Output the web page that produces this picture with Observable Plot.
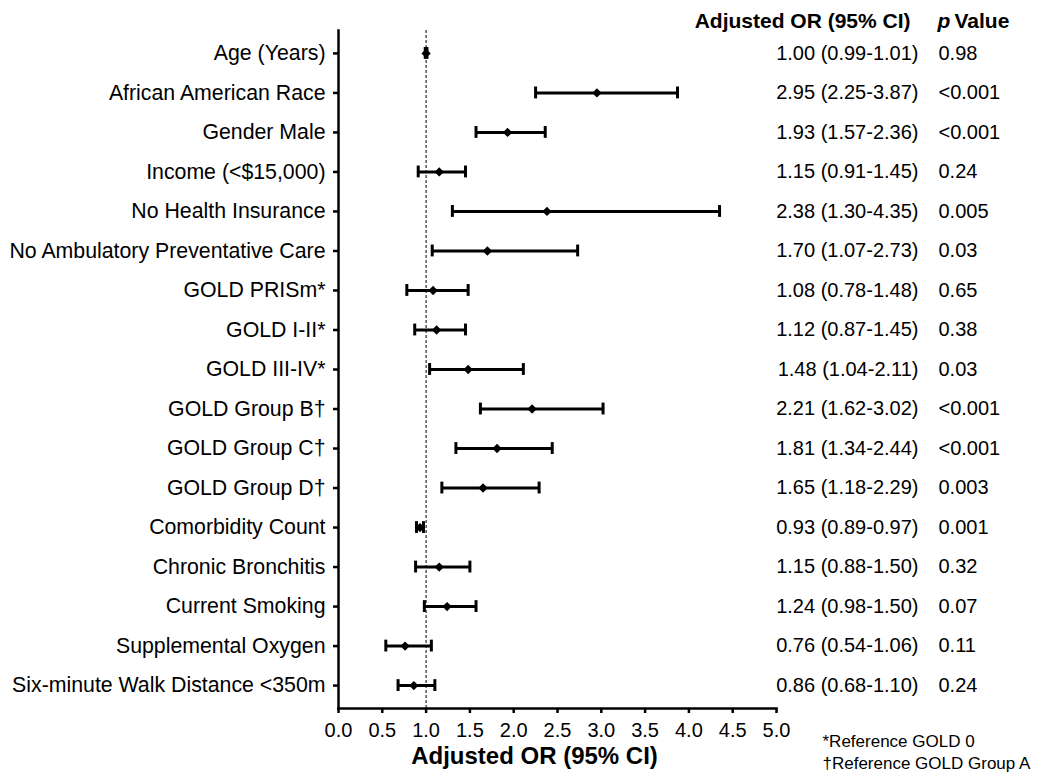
<!DOCTYPE html>
<html>
<head>
<meta charset="utf-8">
<script src="https://cdn.jsdelivr.net/npm/d3@7"></script>
<script src="https://cdn.jsdelivr.net/npm/@observablehq/plot@0.6"></script>
<style>
  html, body { margin: 0; padding: 0; background: #fff; }
  #chart { width: 1050px; height: 775px; }
  svg { font-family: "Liberation Sans", Arial, sans-serif; }
</style>
</head>
<body>
<div id="chart"></div>
<script>
const labels = [
  "Age (Years)",
  "African American Race",
  "Gender Male",
  "Income (<$15,000)",
  "No Health Insurance",
  "No Ambulatory Preventative Care",
  "GOLD PRISm*",
  "GOLD I-II*",
  "GOLD III-IV*",
  "GOLD Group B\u2020",
  "GOLD Group C\u2020",
  "GOLD Group D\u2020",
  "Comorbidity Count",
  "Chronic Bronchitis",
  "Current Smoking",
  "Supplemental Oxygen",
  "Six-minute Walk Distance <350m"
];
const orValues = [1.00, 2.95, 1.93, 1.15, 2.38, 1.70, 1.08, 1.12, 1.48, 2.21, 1.81, 1.65, 0.93, 1.15, 1.24, 0.76, 0.86];
const lowerCI  = [0.99, 2.25, 1.57, 0.91, 1.30, 1.07, 0.78, 0.87, 1.04, 1.62, 1.34, 1.18, 0.89, 0.88, 0.98, 0.54, 0.68];
const upperCI  = [1.01, 3.87, 2.36, 1.45, 4.35, 2.73, 1.48, 1.45, 2.11, 3.02, 2.44, 2.29, 0.97, 1.50, 1.57, 1.06, 1.10];
const orText = [
  "1.00 (0.99-1.01)", "2.95 (2.25-3.87)", "1.93 (1.57-2.36)", "1.15 (0.91-1.45)",
  "2.38 (1.30-4.35)", "1.70 (1.07-2.73)", "1.08 (0.78-1.48)", "1.12 (0.87-1.45)",
  "1.48 (1.04-2.11)", "2.21 (1.62-3.02)", "1.81 (1.34-2.44)", "1.65 (1.18-2.29)",
  "0.93 (0.89-0.97)", "1.15 (0.88-1.50)", "1.24 (0.98-1.50)", "0.76 (0.54-1.06)",
  "0.86 (0.68-1.10)"
];
const pValues = ["0.98", "<0.001", "<0.001", "0.24", "0.005", "0.03", "0.65", "0.38", "0.03",
  "<0.001", "<0.001", "0.003", "0.001", "0.32", "0.07", "0.11", "0.24"];
const xTicks = [0, 0.5, 1, 1.5, 2, 2.5, 3, 3.5, 4, 4.5, 5];
const referenceLine = 1;
const xTitle = "Adjusted OR (95% CI)";
const headerOR = "Adjusted OR (95% CI)";
const headerP = ["p", "Value"];
const footnotes = ["*Reference GOLD 0", "\u2020Reference GOLD Group A"];

const rows = labels.map((label, i) => ({
  label, or: orValues[i], lo: lowerCI[i], hi: upperCI[i], orText: orText[i], p: pValues[i]
}));

const font = "'Liberation Sans', Arial, sans-serif";

const chart = Plot.plot({
  width: 1050,
  height: 775,
  marginLeft: 338,
  marginRight: 274,
  marginTop: 30,
  marginBottom: 67,
  style: { fontFamily: font, fontSize: "20px", color: "#000", background: "#fff", overflow: "visible" },
  x: { domain: [0, 5], ticks: xTicks, tickFormat: d3.format(".1f") },
  y: { domain: labels, paddingInner: 0.7, paddingOuter: 0.43, align: 0.5, round: false },
  marks: [
    Plot.ruleX([referenceLine], { stroke: "#000", strokeWidth: 1, strokeDasharray: "3,2" }),
    Plot.ruleY(rows, { y: "label", x1: "lo", x2: "hi", stroke: "#000", strokeWidth: 3 }),
    Plot.tickX(rows, { x: "lo", y: "label", stroke: "#000", strokeWidth: 3 }),
    Plot.tickX(rows, { x: "hi", y: "label", stroke: "#000", strokeWidth: 3 }),
    Plot.dot(rows, { x: "or", y: "label", symbol: "diamond2", r: 4.2, fill: "#000", stroke: "none" }),
    Plot.frame({ anchor: "bottom", stroke: "#000", strokeWidth: 2.5 }),
    Plot.frame({ anchor: "left", stroke: "#000", strokeWidth: 2.5 }),
    Plot.axisX({ ticks: xTicks, tickFormat: d3.format(".1f"), tickSize: 5, tickPadding: 9, strokeWidth: 2.5, fontSize: 20, label: null }),
    Plot.axisY({ tickSize: 5, tickPadding: 8, strokeWidth: 2.5, fontSize: 21.3, label: null }),
    Plot.text(rows, { y: "label", text: "orText", frameAnchor: "right", dx: 142, textAnchor: "end", fontSize: 20, fill: "#000" }),
    Plot.text(rows, { y: "label", text: "p", frameAnchor: "right", dx: 162, textAnchor: "start", fontSize: 20, fill: "#000" }),
    Plot.text([headerOR], { text: d => d, frameAnchor: "top-right", lineAnchor: "middle", dx: 134, dy: -9, textAnchor: "end", fontSize: 21, fontWeight: "bold", fill: "#000" }),
    Plot.text([headerP[0]], { text: d => d, frameAnchor: "top-right", lineAnchor: "middle", dx: 161, dy: -9, textAnchor: "start", fontSize: 21, fontWeight: "bold", fontStyle: "italic", fill: "#000" }),
    Plot.text([headerP[1]], { text: d => d, frameAnchor: "top-right", lineAnchor: "middle", dx: 178, dy: -9, textAnchor: "start", fontSize: 21, fontWeight: "bold", fill: "#000" }),
    Plot.text([xTitle], { text: d => d, frameAnchor: "bottom", lineAnchor: "middle", dx: -23, dy: 48, fontSize: 24, fontWeight: "bold", fill: "#000" }),
    Plot.text([footnotes[0]], { text: d => d, frameAnchor: "bottom-right", lineAnchor: "middle", dx: 46, dy: 33, textAnchor: "start", fontSize: 17, fill: "#000" }),
    Plot.text([footnotes[1]], { text: d => d, frameAnchor: "bottom-right", lineAnchor: "middle", dx: 46, dy: 55, textAnchor: "start", fontSize: 17, fill: "#000" })
  ]
});

document.getElementById("chart").appendChild(chart);
</script>
</body>
</html>
